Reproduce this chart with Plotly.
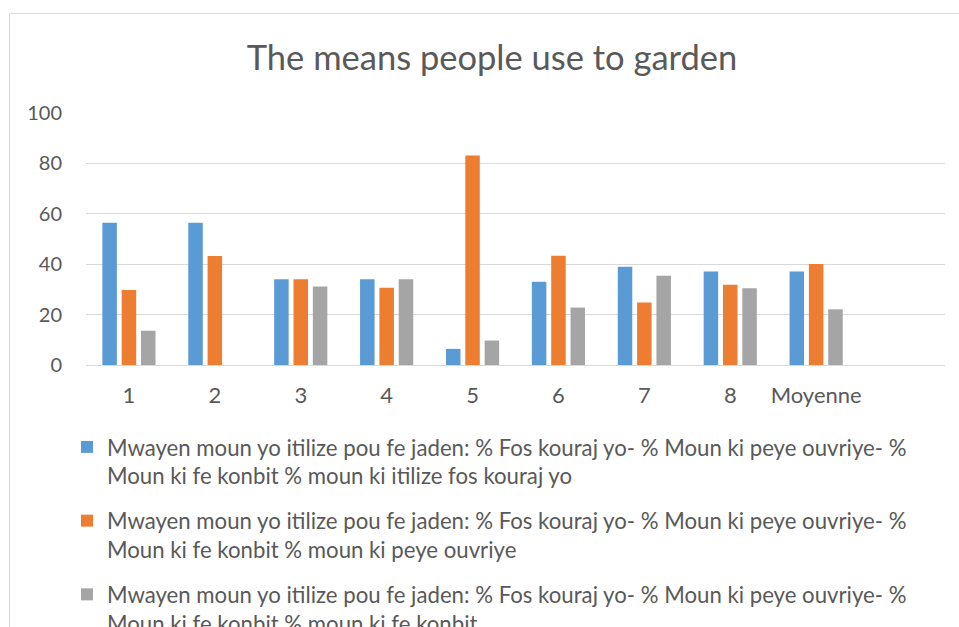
import plotly.graph_objects as go

categories = ["1", "2", "3", "4", "5", "6", "7", "8", "Moyenne", " "]
fos_kouraj = [56.4, 56.4, 34.0, 34.0, 6.4, 33.0, 39.0, 37.1, 37.1, None]
peye_ouvriye = [29.8, 43.3, 34.0, 30.7, 83.1, 43.4, 24.8, 31.8, 40.1, None]
konbit = [13.6, None, 31.2, 34.0, 9.7, 22.8, 35.4, 30.5, 22.1, None]

prefix = "Mwayen moun yo itilize pou fe jaden: % Fos kouraj yo- % Moun ki peye ouvriye- %<br>Moun ki fe konbit % moun ki "
series_names = [prefix + "itilize fos kouraj yo",
                prefix + "peye ouvriye",
                prefix + "fe konbit"]
colors = ["#5B9BD5", "#ED7D31", "#A5A5A5"]
font = "Lato"
grey_text = "#595959"

fig = go.Figure()
for name, vals, col in zip(series_names, [fos_kouraj, peye_ouvriye, konbit], colors):
    fig.add_trace(go.Bar(x=categories, y=vals, name=name, marker_color=col,
                         marker_line_width=0, legendgroup=name))

fig.update_layout(
    width=959, height=627,
    margin=dict(l=86, r=14, t=113, b=262, autoexpand=False),
    paper_bgcolor="white", plot_bgcolor="white",
    font=dict(family=font, color=grey_text),
    title=dict(text="The means people use to garden", x=492 / 959, xanchor="center",
               xref="container", y=1 - 58 / 627, yanchor="middle",
               font=dict(size=34.5, color=grey_text, family=font)),
    bargap=0.325, bargroupgap=0.25,
    legend=dict(x=(67 - 86) / 859, y=(365 - 426) / 252, xanchor="left", yanchor="top",
                font=dict(size=22.2, color=grey_text, family=font), valign="top",
                tracegroupgap=13, traceorder="grouped"),
    shapes=[dict(type="rect", xref="paper", yref="paper",
                 x0=(9.5 - 86) / 859, x1=(990 - 86) / 859,
                 y0=(365 - 700) / 252, y1=(365 - 13.5) / 252,
                 line=dict(color="#d9d9d9", width=1), layer="below")],
)
fig.update_xaxes(type="category", categoryarray=categories, range=[-0.5, 9.5],
                 showgrid=False, showline=True, linecolor="#d9d9d9", linewidth=1,
                 ticks="", tickfont=dict(size=22, color=grey_text), ticklabelstandoff=11)
fig.update_yaxes(range=[0, 100], dtick=20, showgrid=True, gridcolor="#d9d9d9", gridwidth=1,
                 zeroline=False, showline=False, ticks="",
                 tickfont=dict(size=20, color=grey_text), ticklabelstandoff=23)

# browser default body margin would shift the chart by 8px
fig.write_html("out.html", config={"displayModeBar": False},
               post_script="document.body.style.margin='0';")
